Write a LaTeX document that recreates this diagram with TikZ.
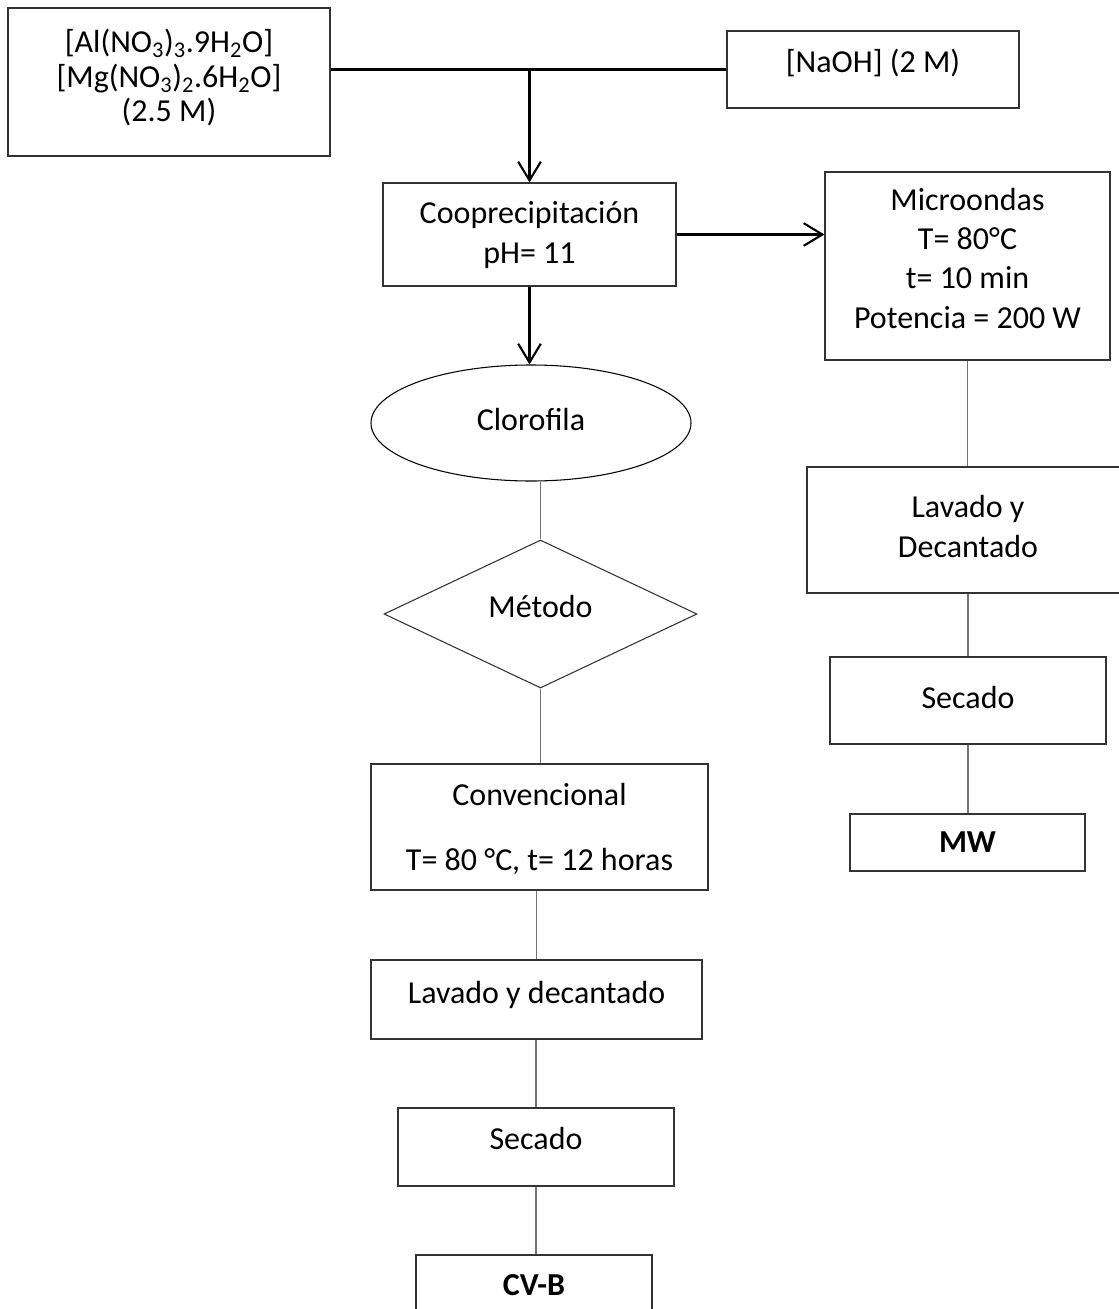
\documentclass[tikz,border=0pt]{standalone}
\usepackage{fontspec}
\setmainfont{Carlito}
\usetikzlibrary{shapes.geometric,arrows.meta}
\begin{document}
\begin{tikzpicture}[x=0.75pt,y=-0.75pt,
  every node/.style={font=\fontsize{24}{29.3}\selectfont},
  sz/.style 2 args={minimum width=#1*0.75pt, minimum height=#2*0.75pt},
  boxst/.style={draw=black!80, line width=0.9pt, rectangle, inner sep=0pt},
  txt/.style={anchor=base, align=center, inner sep=0pt},
  arr/.style={line width=1.6pt, -{Straight Barb[length=14pt,width=17pt]}},
  link/.style={draw=black!55, line width=0.9pt}]
\useasboundingbox (0,0) rectangle (1119,1309);
\clip (0,0) rectangle (1119,1309);
\fill[white] (0,0) rectangle (1119,1309);

% shapes
\node[boxst, sz={322}{148}] (b1) at (169,82) {};
\node[boxst, sz={292}{77}] (naoh) at (873,69.5) {};
\node[boxst, sz={293}{103}] (coop) at (529.5,234.5) {};
\node[boxst, sz={285}{188}] (micro) at (967.5,266) {};
\node[draw=black, line width=0.8pt, ellipse, inner sep=0pt, sz={320}{116}] (clor) at (531,423) {};
\node[draw=black!80, line width=0.8pt, diamond, inner sep=0pt, sz={313}{148}] (met) at (540.5,614) {};
\node[boxst, sz={337}{126}] (conv) at (539.5,827) {};
\node[boxst, sz={331}{79}] (lav1) at (536.5,999.5) {};
\node[boxst, sz={276}{78}] (sec1) at (536,1147) {};
\node[boxst, sz={236}{65}] (cvb) at (534,1287.5) {};
\node[boxst, sz={318}{126}] (lav2) at (966,530) {};
\node[boxst, sz={276}{87}] (sec2) at (968,700.5) {};
\node[boxst, sz={235}{57}] (mw) at (967.5,842.5) {};

% texts (anchor base = baseline of the last line)
\node[txt, font=\fontsize{24}{25.9}\selectfont] (t1) at (169,122)
  {{[}Al(NO\textsubscript{3})\textsubscript{3}.9H\textsubscript{2}O{]}\\
   {[}Mg(NO\textsubscript{3})\textsubscript{2}.6H\textsubscript{2}O{]}\\
   (2.5 M)};
\node[txt] (t2) at (873,73) {[NaOH] (2 M)};
\node[txt] (t3) at (529.5,263) {Cooprecipitación\\pH= 11};
\node[txt] (t4) at (967.5,328) {Microondas\\T= 80°C\\t= 10 min\\Potencia = 200 W};
\node[txt] (t5) at (531,430) {Clorofila};
\node[txt] (t6) at (540.5,617) {Método};
\node[txt] (t7) at (539.5,870) {Convencional\\[19.4pt]T= 80 °C, t= 12 horas};
\node[txt] (t8) at (536.5,1003) {Lavado y decantado};
\node[txt] (t9) at (536,1149) {Secado};
\node[txt] (t10) at (534,1295) {\textbf{CV-B}};
\node[txt] (t11) at (968,557) {Lavado y\\Decantado};
\node[txt] (t12) at (968,708) {Secado};
\node[txt] (t13) at (967.5,852) {\textbf{MW}};

% connectors
\coordinate (j) at (coop.north |- naoh.west);
\draw[line width=1.6pt] (b1.east |- naoh.west) -- (naoh.west);
\draw[arr] (j) -- (coop.north);
\draw[arr] (coop.east) -- (coop.east -| micro.west);
\draw[arr] (coop.south) -- (coop.south |- clor.north);
\draw[link] (met.north |- clor.south) -- (met.north);
\draw[link] (met.south) -- (met.south |- conv.north);
\draw[link] (lav1.north |- conv.south) -- (lav1.north);
\draw[link] (sec1.north |- lav1.south) -- (sec1.north);
\draw[link] (sec1.south) -- (sec1.south |- cvb.north);
\draw[link] (micro.south) -- (micro.south |- lav2.north);
\draw[link] (sec2.north |- lav2.south) -- (sec2.north);
\draw[link] (sec2.south) -- (sec2.south |- mw.north);
\end{tikzpicture}
\end{document}
